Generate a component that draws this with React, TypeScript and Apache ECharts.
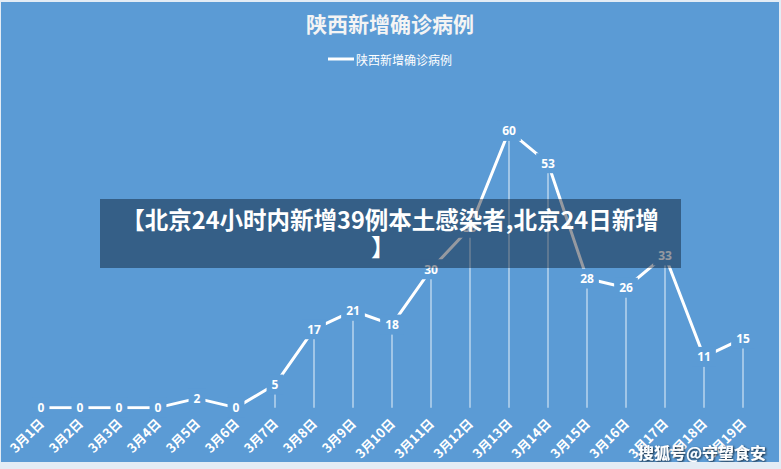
import React, { useEffect, useRef } from "react";
import * as echarts from "echarts";

const categories = ["3月1日","3月2日","3月3日","3月4日","3月5日","3月6日","3月7日","3月8日","3月9日","3月10日","3月11日","3月12日","3月13日","3月14日","3月15日","3月16日","3月17日","3月18日","3月19日"];
const cases = [0,0,0,0,2,0,5,17,21,18,30,39,60,53,28,26,33,11,15];
const seriesName = "陕西新增确诊病例";
const titleText = "陕西新增确诊病例";
const bannerLine1 = "【北京24小时内新增39例本土感染者,北京24日新增";
const bannerLine2 = "】";
const watermark = "搜狐号@守望食安";

const BG = "#5b9bd5";

export default function App() {
  const ref = useRef<HTMLDivElement>(null);
  useEffect(() => {
    document.body.style.margin = "0";
    const chart = echarts.init(ref.current!, null, { renderer: "svg" });
    chart.setOption({
      animation: false,
      backgroundColor: BG,
      title: {
        text: titleText,
        left: "center",
        top: 5,
        textStyle: { color: "#f4f4f4", fontSize: 21, fontWeight: "bold", fontFamily: "Noto Sans CJK SC" },
      },
      legend: {
        data: [seriesName],
        top: 46,
        left: "center",
        icon: "rect",
        itemWidth: 26,
        itemHeight: 3,
        itemGap: 4,
        textStyle: { color: "#ffffff", fontSize: 12, fontFamily: "Noto Sans CJK SC", padding: [0, 0, 0, -3] },
      },
      grid: { left: 20.5, width: 741, top: 82.8, bottom: 54, containLabel: false },
      xAxis: {
        type: "category",
        data: categories,
        boundaryGap: true,
        axisLine: { show: false },
        axisTick: { show: false },
        axisLabel: {
          rotate: 45,
          color: "#ffffff",
          fontSize: 13,
          fontWeight: "bold",
          fontFamily: "Noto Sans CJK SC",
          margin: 13,
          interval: 0,
        },
      },
      yAxis: {
        type: "value",
        min: 0,
        max: 70,
        show: false,
        splitLine: { show: false },
      },
      series: [
        {
          type: "bar",
          name: "drop",
          data: cases,
          barWidth: 1,
          itemStyle: { color: "rgba(255,255,255,0.85)" },
          silent: true,
          z: 1,
        },
        {
          type: "line",
          name: seriesName,
          data: cases,
          symbol: "circle",
          symbolSize: 1,
          itemStyle: { color: "#ffffff" },
          lineStyle: { color: "#ffffff", width: 3 },
          z: 2,
          label: {
            show: true,
            position: "inside",
            color: "#ffffff",
            fontSize: 12,
            fontWeight: "bold",
            fontFamily: "Open Sans",
            backgroundColor: BG,
            padding: [4, 5, 4, 5],
          },
        },
      ],
      graphic: [
        {
          type: "rect",
          shape: { x: 99, y: 197, width: 581, height: 69 },
          style: { fill: "rgba(2,12,28,0.42)" },
          z: 100,
        },
        {
          type: "text",
          x: 389,
          y: 217,
          z: 101,
          style: {
            text: bannerLine1,
            fill: "#ffffff",
            font: "bold 23.5px 'Noto Sans CJK SC'",
            textAlign: "center",
            textVerticalAlign: "middle",
          },
        },
        {
          type: "text",
          x: 382,
          y: 244,
          z: 101,
          style: {
            text: bannerLine2,
            fill: "#ffffff",
            font: "bold 23.5px 'Noto Sans CJK SC'",
            textAlign: "center",
            textVerticalAlign: "middle",
          },
        },
        {
          type: "text",
          x: 765,
          y: 450,
          z: 102,
          style: {
            text: watermark,
            fill: "#ffffff",
            font: "bold 16px 'Noto Sans CJK SC'",
            textAlign: "right",
            textVerticalAlign: "middle",
            textShadowColor: "rgba(0,0,0,0.85)",
            textShadowBlur: 2,
            textShadowOffsetX: 1,
            textShadowOffsetY: 1,
          },
        },
      ],
    });
    return () => chart.dispose();
  }, []);
  return (
    <div style={{ position: "absolute", left: 0, top: 0, width: 781, height: 469, background: "#e3ecf5" }}>
      <div ref={ref} style={{ position: "absolute", left: 1, top: 2, width: 778, height: 460 }} />
    </div>
  );
}
